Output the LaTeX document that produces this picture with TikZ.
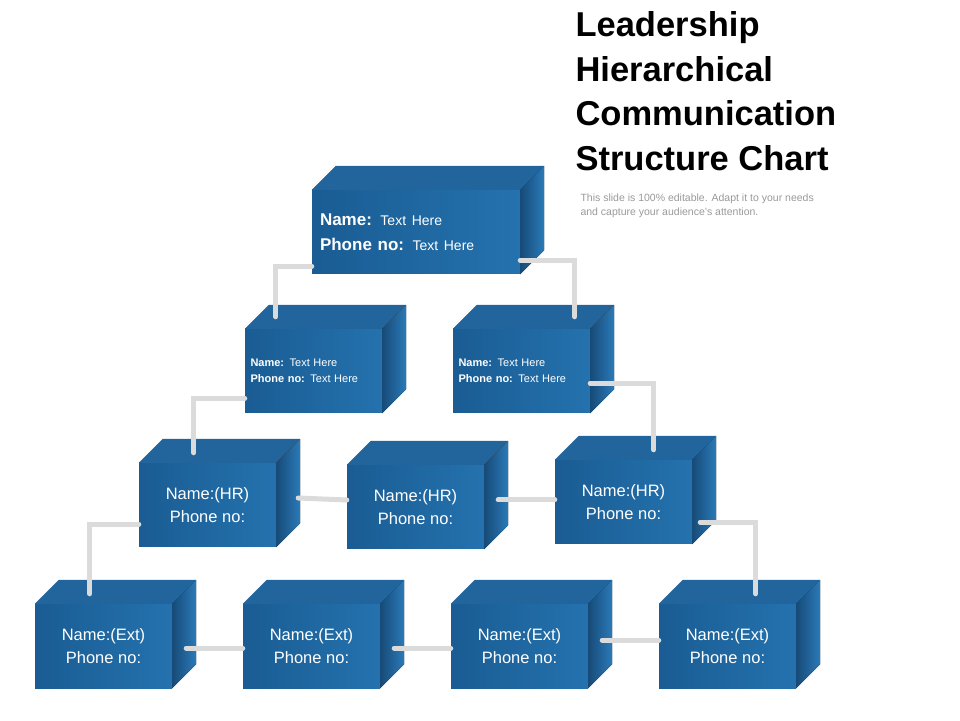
\documentclass[tikz,border=0pt]{standalone}
\usepackage{fontspec}
\setmainfont{Liberation Sans}
\usetikzlibrary{calc}
\definecolor{boxlight}{HTML}{2472AE}
\definecolor{boxdark}{HTML}{1A5C93}
\definecolor{topblue}{HTML}{22659C}
\definecolor{sidedark}{HTML}{174A78}
\definecolor{sidelight}{HTML}{2A7AB8}

\begin{document}
\begin{tikzpicture}[x=1pt,y=1pt]

	\tikzstyle{box}=[rectangle,inner sep=0pt,text=white,left color=boxdark,right color=boxlight,draw=none]
	\tikzstyle{top face}=[fill=topblue]
	\tikzstyle{side face}=[left color=sidedark,right color=sidelight]
	\tikzstyle{link}=[line width=5pt,black!14,line cap=round]
	\tikzstyle{big}=[font=\fontsize{16.5}{23}\selectfont,align=center]
	\tikzstyle{small}=[font=\fontsize{11}{16}\selectfont,align=left,text width=126pt]

	\useasboundingbox (0,0) rectangle (960,720);

	% title
	\node[anchor=north west,align=left,font=\fontsize{34.5}{44.5}\selectfont\bfseries] (title) at (572,712) {Leadership\\Hierarchical\\Communication\\Structure Chart};
	\node[anchor=north west,align=left,text=black!40,font=\fontsize{10.5}{14}\selectfont] (sub) at (577,530) {This slide is 100\% editable. Adapt it to your needs\\and capture your audience's attention.};

	% boxes
	\node[box,minimum width=208pt,minimum height=84pt,align=left,text width=192pt,font=\fontsize{17}{20}\selectfont] (top) at (416,488)
		{\textbf{Name:} {\fontsize{14}{20}\selectfont Text Here}\\[5pt]\textbf{Phone no:} {\fontsize{14}{20}\selectfont Text Here}};
	\node[box,small,minimum width=137pt,minimum height=84pt] (l2a) at (313.5,349) {\textbf{Name:} Text Here\\\textbf{Phone no:} Text Here};
	\node[box,small,minimum width=137pt,minimum height=84pt] (l2b) at (521.5,349) {\textbf{Name:} Text Here\\\textbf{Phone no:} Text Here};
	\node[box,big,minimum width=137pt,minimum height=84pt] (l3a) at (207.5,215) {Name:(HR)\\Phone no:};
	\node[box,big,minimum width=137pt,minimum height=84pt] (l3b) at (415.5,213) {Name:(HR)\\Phone no:};
	\node[box,big,minimum width=137pt,minimum height=84pt] (l3c) at (623.5,218) {Name:(HR)\\Phone no:};
	\node[box,big,minimum width=137pt,minimum height=84pt] (l4a) at (103.5,74) {Name:(Ext)\\Phone no:};
	\node[box,big,minimum width=137pt,minimum height=84pt] (l4b) at (311.5,74) {Name:(Ext)\\Phone no:};
	\node[box,big,minimum width=137pt,minimum height=84pt] (l4c) at (519.5,74) {Name:(Ext)\\Phone no:};
	\node[box,big,minimum width=137pt,minimum height=84pt] (l4d) at (727.5,74) {Name:(Ext)\\Phone no:};

	\foreach \n in {top,l2a,l2b,l3a,l3b,l3c,l4a,l4b,l4c,l4d}{
		\fill[top face] (\n.north west) -- ([shift={(24,24)}]\n.north west) -- ([shift={(24,24)}]\n.north east) -- (\n.north east) -- cycle;
		\fill[side face] (\n.north east) -- ([shift={(24,24)}]\n.north east) -- ([shift={(24,24)}]\n.south east) -- (\n.south east) -- cycle;
	}

	% connectors
	\draw[link] ($(top.south west)+(0,8)$) -| ($(l2a.north west)+(31,12)$);
	\draw[link] ($(top.south east)+(0,14)$) -| ($(l2b.north west)+(122,12)$);
	\draw[link] ($(l2a.south west)+(0,15)$) -| ($(l3a.north west)+(55,10)$);
	\draw[link] ($(l2b.south east)+(0,30)$) -| ($(l3c.north west)+(99,10)$);
	\draw[link] ($(l3a.south west)+(0,23)$) -| ($(l4a.north west)+(55,10)$);
	\draw[link] ($(l3c.south east)+(8,22)$) -| ($(l4d.north west)+(97,10)$);
	\draw[link] ($(l3a.east)+(22,7)$) -- ($(l3b.west)+(0,7)$);
	\draw[link] ($(l3b.east)+(14,7)$) -- ($(l3c.west)+(0,2)$);
	\draw[link] ($(l4a.east)+(14,-2)$) -- ($(l4b.west)+(0,-2)$);
	\draw[link] ($(l4b.east)+(14,-2)$) -- ($(l4c.west)+(0,-2)$);
	\draw[link] ($(l4c.east)+(14,6)$) -- ($(l4d.west)+(0,6)$);

\end{tikzpicture}
\end{document}
